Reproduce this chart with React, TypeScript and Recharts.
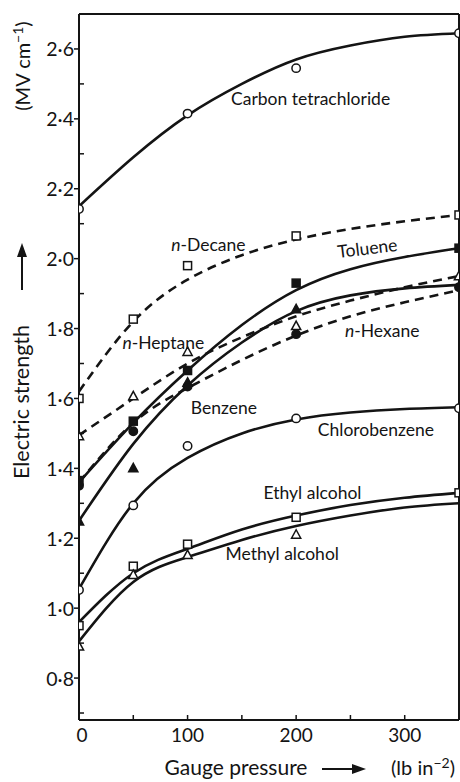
import React from 'react';
import { ComposedChart, Line, Scatter, XAxis, YAxis, ReferenceLine } from 'recharts';

// ---- data ----
const pressure = [0, 50, 100, 150, 200, 250, 300, 350];
const ccl4Fit = [2.15, 2.29, 2.41, 2.5, 2.57, 2.61, 2.635, 2.645];
const decaneFit = [1.62, 1.82, 1.94, 2.01, 2.055, 2.085, 2.107, 2.125];
const tolueneFit = [1.36, 1.53, 1.68, 1.81, 1.91, 1.97, 2.005, 2.03];
const heptaneFit = [1.495, 1.6, 1.7, 1.775, 1.835, 1.88, 1.918, 1.95];
const benzeneFit = [1.25, 1.47, 1.637, 1.76, 1.85, 1.895, 1.915, 1.925];
const hexaneFit = [1.36, 1.53, 1.63, 1.71, 1.78, 1.835, 1.875, 1.91];
const chloroFit = [1.055, 1.3, 1.43, 1.5, 1.54, 1.56, 1.57, 1.575];
const ethylFit = [0.96, 1.1, 1.17, 1.225, 1.265, 1.295, 1.316, 1.33];
const methylFit = [0.905, 1.075, 1.146, 1.195, 1.235, 1.265, 1.288, 1.3];

const ptPressure = [0, 50, 100, 200, 350];
const ccl4Pts = [2.142, null, 2.415, 2.545, 2.645];
const decanePts = [1.6, 1.827, 1.98, 2.065, 2.125];
const toluenePts = [1.365, 1.535, 1.68, 1.93, 2.03];
const heptanePts = [1.492, 1.606, 1.733, 1.807, 1.95];
const benzenePts = [1.248, 1.4, 1.645, 1.855, null];
const hexanePts = [1.35, 1.506, 1.634, 1.784, 1.918];
const chloroPts = [1.052, 1.294, 1.464, 1.543, 1.572];
const ethylPts = [0.95, 1.12, 1.183, 1.26, 1.33];
const methylPts = [0.89, 1.095, 1.152, 1.21, null];

const seriesNames = ['Carbon tetrachloride', 'n-Decane', 'Toluene', 'n-Heptane', 'Benzene', 'n-Hexane', 'Chlorobenzene', 'Ethyl alcohol', 'Methyl alcohol'];
const labelX = [140, 85, 238, 40, 103, 245, 220, 170, 135];
const labelY = [2.457, 2.043, 2.02, 1.762, 1.575, 1.796, 1.512, 1.33, 1.155];

const xTicks = [0, 50, 100, 150, 200, 250, 300, 350];
const yTicks = [0.7, 0.8, 0.9, 1.0, 1.1, 1.2, 1.3, 1.4, 1.5, 1.6, 1.7, 1.8, 1.9, 2.0, 2.1, 2.2, 2.3, 2.4, 2.5, 2.6];

// ---- styles ----
const FONT = 'Lato, "DejaVu Sans", sans-serif';
const INK = '#141414';
const fits = [ccl4Fit, decaneFit, tolueneFit, heptaneFit, benzeneFit, hexaneFit, chloroFit, ethylFit, methylFit];
const pts = [ccl4Pts, decanePts, toluenePts, heptanePts, benzenePts, hexanePts, chloroPts, ethylPts, methylPts];
const dashed = [false, true, false, true, false, true, false, false, false];
const markerKind = ['circle', 'square', 'square', 'triangle', 'triangle', 'circle', 'circle', 'square', 'triangle'];
const markerFilled = [false, false, true, false, true, true, false, false, false];
const labelRotate = [0, 0, -7, 0, 0, 0, 0, 0, 0];

const fitData = fits.map((ys) => pressure.map((x, i) => ({ x, y: ys[i] })));
const ptData = pts.map((ys) => ptPressure.map((x, i) => ({ x, y: ys[i] })).filter((d) => d.y !== null));
const labelData = seriesNames.map((name, i) => ({ x: labelX[i], y: labelY[i], label: name, rot: labelRotate[i] }));

const makeMarker = (kind: string, filled: boolean) => (props: any) => {
  const { cx, cy } = props;
  if (cx == null || cy == null) return <g />;
  const fill = filled ? INK : '#fff';
  if (kind === 'circle') return <circle cx={cx} cy={cy} r={4.2} fill={fill} stroke={INK} strokeWidth={1.5} />;
  if (kind === 'square') return <rect x={cx - 4} y={cy - 4} width={8} height={8} fill={fill} stroke={INK} strokeWidth={1.5} />;
  return <polygon points={`${cx},${cy - 5} ${cx + 4.6},${cy + 3.5} ${cx - 4.6},${cy + 3.5}`} fill={fill} stroke={INK} strokeWidth={1.5} />;
};

const LabelShape = (props: any) => {
  const { cx, cy, payload } = props;
  const name: string = payload.label;
  const italicN = name.startsWith('n-');
  return (
    <text x={cx} y={cy} dominantBaseline="central" fontFamily={FONT} fontSize={17.5} fill={INK}
      transform={payload.rot ? `rotate(${payload.rot} ${cx} ${cy})` : undefined}>
      {italicN ? (<><tspan fontStyle="italic">n</tspan><tspan>{name.slice(1)}</tspan></>) : name}
    </text>
  );
};

const XTick = (props: any) => {
  const { x, y, payload } = props;
  const v = payload.value;
  const major = v % 100 === 0 && v < 350;
  return (
    <g>
      {v > 0 && v < 350 && <line x1={x} y1={y} x2={x} y2={y - 5} stroke={INK} strokeWidth={1.5} />}
      {major && (
        <text x={x + (v === 0 ? 3 : 0)} y={y + 22} textAnchor="middle" fontFamily={FONT} fontSize={19} fill={INK}>{v}</text>
      )}
    </g>
  );
};

const YTick = (props: any) => {
  const { x, y, payload } = props;
  const v = payload.value;
  const tenths = Math.round(v * 10);
  const major = tenths % 2 === 0;
  const txt = (v.toFixed(1)).replace('.', '\u00B7');
  return (
    <g>
      {major ? (
        <line x1={x} y1={y} x2={x - 5} y2={y} stroke={INK} strokeWidth={1.5} />
      ) : (
        <line x1={x} y1={y} x2={x + 5} y2={y} stroke={INK} strokeWidth={1.5} />
      )}
      {major && (
        <text x={x - 5} y={y} dominantBaseline="central" textAnchor="end" fontFamily={FONT} fontSize={19.5} fill={INK}>{txt}</text>
      )}
    </g>
  );
};

export default function App() {
  return (
    <div style={{ position: 'absolute', left: 0, top: 0, width: 460, height: 782, background: '#fff' }}>
      <ComposedChart width={460} height={782} margin={{ top: 14, right: 1, bottom: 0, left: 0 }}>
        <XAxis type="number" dataKey="x" domain={[0, 350]} ticks={xTicks} interval={0} height={62}
          allowDataOverflow tickSize={0} tickMargin={0} tickLine={false} tick={<XTick />}
          axisLine={{ stroke: INK, strokeWidth: 2 }} />
        <YAxis type="number" dataKey="y" domain={[0.68, 2.7]} ticks={yTicks} interval={0} width={79}
          allowDataOverflow tickSize={0} tickMargin={0} tickLine={false} tick={<YTick />}
          axisLine={{ stroke: INK, strokeWidth: 2 }} />
        <ReferenceLine y={2.7} stroke={INK} strokeWidth={2} ifOverflow="extendDomain" />
        <ReferenceLine x={350} stroke={INK} strokeWidth={2} ifOverflow="extendDomain" />
        {fitData.map((d, i) => (
          <Line key={'f' + i} data={d} dataKey="y" type="natural" stroke={INK} strokeWidth={2.6}
            strokeDasharray={dashed[i] ? '9 6' : undefined} dot={false} activeDot={false} isAnimationActive={false} />
        ))}
        {ptData.map((d, i) => (
          <Scatter key={'p' + i} data={d} dataKey="y" shape={makeMarker(markerKind[i], markerFilled[i])} isAnimationActive={false} />
        ))}
        <Scatter data={labelData} dataKey="y" shape={<LabelShape />} isAnimationActive={false} />
      </ComposedChart>
      <svg width={460} height={782} style={{ position: 'absolute', left: 0, top: 0, pointerEvents: 'none' }}>
        <g fontFamily={FONT} fill={INK}>
          <text x={236} y={775} textAnchor="middle" fontSize={21}>Gauge pressure</text>
          <line x1={322} y1={769} x2={356} y2={769} stroke={INK} strokeWidth={2} />
          <polygon points="366,769 352,764 352,774" fill={INK} />
          <text x={423} y={775} textAnchor="middle" fontSize={20}>(lb in<tspan dy={-7} fontSize={14}>−2</tspan><tspan dy={7}>)</tspan></text>
          <g transform="rotate(-90 29 402)">
            <text x={29} y={402} textAnchor="middle" fontSize={21.5}>Electric strength</text>
          </g>
          <line x1={22} y1={290} x2={22} y2={254} stroke={INK} strokeWidth={2} />
          <polygon points="22,243 17,257 27,257" fill={INK} />
          <g transform="rotate(-90 30 66)">
            <text x={30} y={66} textAnchor="middle" fontSize={20}>(MV cm<tspan dy={-7} fontSize={14}>−1</tspan><tspan dy={7}>)</tspan></text>
          </g>
        </g>
      </svg>
    </div>
  );
}
